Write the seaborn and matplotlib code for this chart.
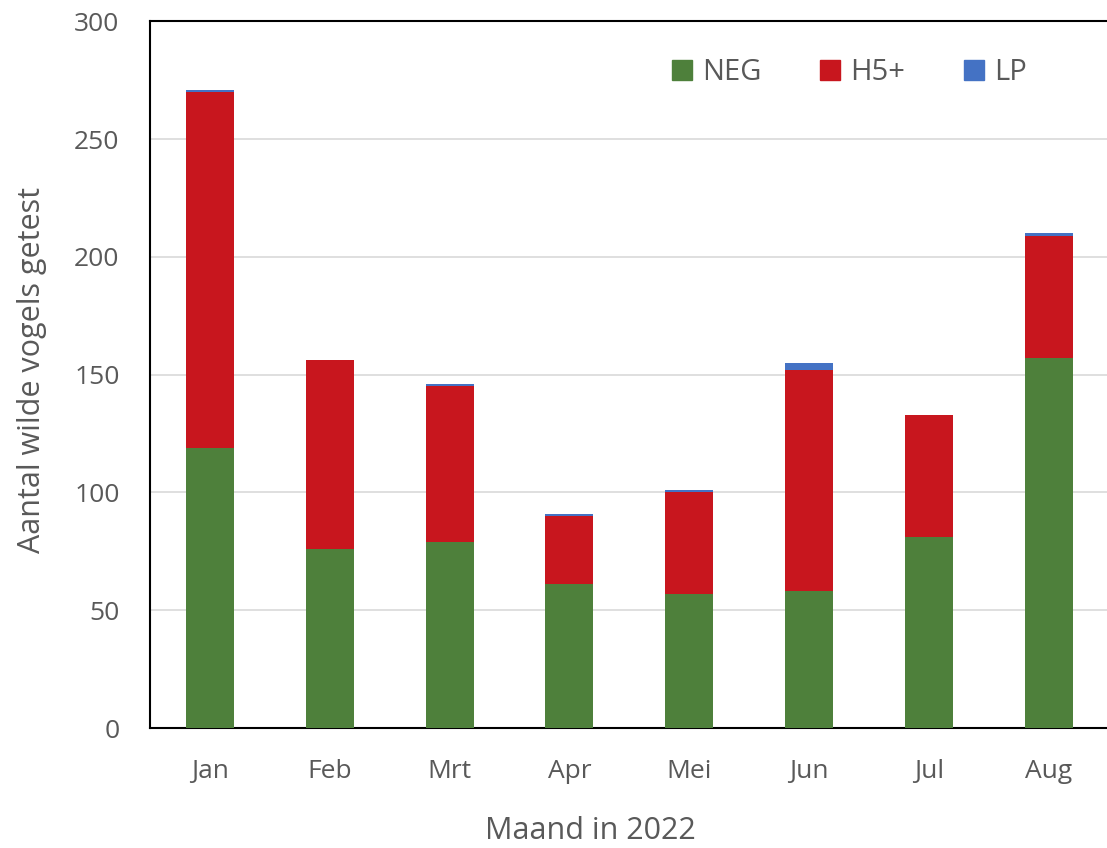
import matplotlib
matplotlib.use("Agg")
import matplotlib.pyplot as plt
import seaborn as sns
import numpy as np
import pandas as pd
from matplotlib.patches import Patch

months = ["Jan", "Feb", "Mrt", "Apr", "Mei", "Jun", "Jul", "Aug"]
neg = [119, 76, 79, 61, 57, 58, 81, 157]
h5 = [151, 80, 66, 29, 43, 94, 52, 52]
lp = [1, 0, 1, 1, 1, 3, 0, 1]

c_neg = "#4E803B"
c_h5 = "#C8161E"
c_lp = "#4472C4"
txt = "#595959"

sns.set_theme(style="white")
plt.rcParams["font.family"] = ["Open Sans", "DejaVu Sans"]

df = pd.DataFrame({"month": months, "neg": neg, "h5": h5, "lp": lp})
df["t_h5"] = df["neg"] + df["h5"]
df["t_lp"] = df["t_h5"] + df["lp"]

fig = plt.figure(figsize=(11.07, 8.48), dpi=100)
ax = fig.add_axes([0.1355, 0.1415, 0.866, 0.8335])

kw = dict(width=0.4, saturation=1, ax=ax, zorder=3, linewidth=0, edgecolor="none")
sns.barplot(data=df, x="month", y="t_lp", color=c_lp, **kw)
sns.barplot(data=df, x="month", y="t_h5", color=c_h5, **kw)
sns.barplot(data=df, x="month", y="neg", color=c_neg, **kw)

ax.set_ylim(0, 300)
ax.set_xlim(-0.5, 7.5)
ax.set_yticks(range(0, 301, 50))
ax.yaxis.grid(True, color="#D9D9D9", linewidth=1.2, zorder=0)
ax.set_axisbelow(True)
for s in ["left", "bottom", "top", "right"]:
    ax.spines[s].set_color("black")
    ax.spines[s].set_linewidth(1.5)
ax.tick_params(axis="both", length=0, labelsize=19, colors=txt)
ax.tick_params(axis="y", pad=22)
ax.tick_params(axis="x", pad=22)
ax.set_xlabel("Maand in 2022", fontsize=22, color=txt)
ax.xaxis.set_label_coords(0.459, -0.125)
ax.set_ylabel("Aantal wilde vogels getest", fontsize=22, color=txt)
ax.yaxis.set_label_coords(-0.107, 0.507)

handles = [Patch(color=c_neg, label="NEG"), Patch(color=c_h5, label="H5+"), Patch(color=c_lp, label="LP")]
leg = ax.legend(handles=handles, ncol=3, frameon=False, loc="upper right",
                bbox_to_anchor=(0.915, 0.948), borderaxespad=0, borderpad=0,
                fontsize=21, handlelength=0.7, handleheight=0.7,
                columnspacing=2.0, handletextpad=0.35)
for t in leg.get_texts():
    t.set_color(txt)

fig.savefig("out.png", dpi=100)
